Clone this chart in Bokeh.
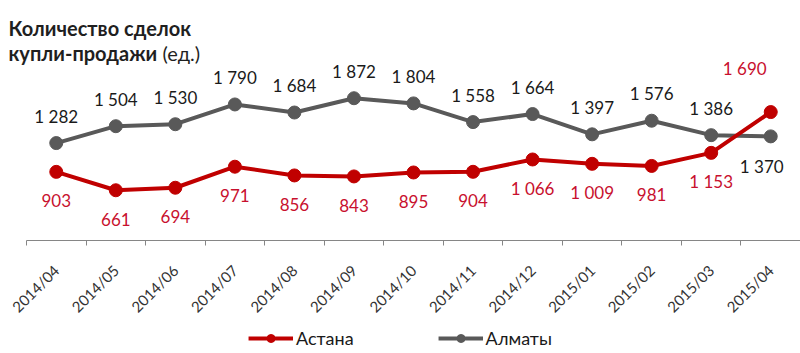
import math
from bokeh.plotting import figure
from bokeh.layouts import column
from bokeh.models import FixedTicker, Label, Legend, LegendItem, ColumnDataSource
from bokeh.core.properties import value
from bokeh.embed import file_html
from bokeh.resources import INLINE

# ---- data ----
months = ["2014/04", "2014/05", "2014/06", "2014/07", "2014/08", "2014/09", "2014/10",
          "2014/11", "2014/12", "2015/01", "2015/02", "2015/03", "2015/04"]
astana = [903, 661, 694, 971, 856, 843, 895, 904, 1066, 1009, 981, 1153, 1690]
almaty = [1282, 1504, 1530, 1790, 1684, 1872, 1804, 1558, 1664, 1397, 1576, 1386, 1370]
series_names = ["Астана", "Алматы"]
title_bold_1 = "Количество  сделок"
title_bold_2 = "купли-продажи"
title_unit = "(ед.)"

# ---- style ----
RED = "#C00000"
GREY = "#595959"
LABEL_RED = "#C8102E"
FONT = "Lato"
W = 800
MAIN_H = 324
LEG_H = 29
FRAME_H = 240
LEFT_PAD = 26

n = len(months)
xs = [i + 0.5 for i in range(n)]
cat_w = (W - LEFT_PAD) / n
x_start = -LEFT_PAD / cat_w

def fmt(v):
    return f"{v:,}".replace(",", " ")

p = figure(width=W, height=MAIN_H, output_backend="svg", toolbar_location=None,
           x_range=(x_start, n), y_range=(0, FRAME_H / 0.076),
           min_border_left=0, min_border_right=0, min_border_top=0,
           min_border_bottom=MAIN_H - FRAME_H)
p.outline_line_color = None
p.xgrid.visible = False
p.ygrid.visible = False
p.yaxis.visible = False
p.background_fill_color = "white"
p.border_fill_color = "white"

ax = p.xaxis[0]
ax.bounds = (0, n)
ax.ticker = FixedTicker(ticks=xs, minor_ticks=list(range(n + 1)))
ax.major_label_overrides = {x: m for x, m in zip(xs, months)}
ax.major_label_orientation = math.pi / 4
ax.major_tick_out = 0
ax.major_tick_in = 0
ax.minor_tick_out = 5
ax.minor_tick_in = 0
ax.minor_tick_line_color = "#868686"
ax.axis_line_color = "#868686"
ax.major_label_text_font = FONT
ax.major_label_text_font_size = "15px"
ax.major_label_text_color = "#333333"
ax.major_label_standoff = 22

src_a = ColumnDataSource(dict(x=xs, y=astana, t=[fmt(v) for v in astana]))
src_m = ColumnDataSource(dict(x=xs, y=almaty, t=[fmt(v) for v in almaty]))

lm = p.line("x", "y", source=src_m, line_color=GREY, line_width=4)
sm = p.scatter("x", "y", source=src_m, size=13, fill_color=GREY, line_color=GREY)
la = p.line("x", "y", source=src_a, line_color=RED, line_width=4)
sa = p.scatter("x", "y", source=src_a, size=13, fill_color=RED, line_color=RED)

# label offsets (screen px): Almaty above, Astana below, except the last month
off_m_x = [0] * n
off_m_y = [-27] * n
off_a_x = [0] * n
off_a_y = [29] * n
off_m_x[-1] = -9
off_m_y[-1] = 30
off_a_x[-1] = -26
off_a_y[-1] = -44
src_m.data["ox"] = off_m_x
src_m.data["oy"] = off_m_y
src_a.data["ox"] = off_a_x
src_a.data["oy"] = off_a_y

p.text("x", "y", text="t", source=src_m, x_offset="ox", y_offset="oy",
       text_align="center", text_baseline="middle", text_font=value(FONT),
       text_font_size="17px", text_color="#1a1a1a")
p.text("x", "y", text="t", source=src_a, x_offset="ox", y_offset="oy",
       text_align="center", text_baseline="middle", text_font=value(FONT),
       text_font_size="17px", text_color=LABEL_RED)

# title
p.add_layout(Label(x=8, y=FRAME_H - 27, x_units="screen", y_units="screen", text=title_bold_1,
                   text_font=FONT, text_font_size="20px", text_font_style="bold",
                   text_color="#1f1f1f", text_baseline="alphabetic"))
p.add_layout(Label(x=8, y=FRAME_H - 52, x_units="screen", y_units="screen", text=title_bold_2,
                   text_font=FONT, text_font_size="20px", text_font_style="bold",
                   text_color="#1f1f1f", text_baseline="alphabetic"))
p.add_layout(Label(x=162, y=FRAME_H - 52, x_units="screen", y_units="screen", text=title_unit,
                   text_font=FONT, text_font_size="20px",
                   text_color="#1f1f1f", text_baseline="alphabetic"))

# legend strip below (series drawn out of view; only the legend shows)
lg = figure(width=W, height=LEG_H, output_backend="svg", toolbar_location=None,
            x_range=(0, n), y_range=(-20, -10),
            min_border_left=0, min_border_right=0, min_border_top=0, min_border_bottom=0)
lg.outline_line_color = None
lg.axis.visible = False
lg.grid.visible = False
ga1 = lg.line("x", "y", source=src_a, line_color=RED, line_width=4)
ga2 = lg.scatter("x", "y", source=src_a, size=13, fill_color=RED, line_color=RED)
gm1 = lg.line("x", "y", source=src_m, line_color=GREY, line_width=4)
gm2 = lg.scatter("x", "y", source=src_m, size=13, fill_color=GREY, line_color=GREY)
legend = Legend(items=[LegendItem(label=series_names[0], renderers=[ga1, ga2]),
                       LegendItem(label=series_names[1], renderers=[gm1, gm2])],
                orientation="horizontal", location="top_center",
                glyph_width=45, glyph_height=20, spacing=84, label_standoff=3,
                label_text_font=FONT, label_text_font_size="18px", label_text_color="#1a1a1a",
                border_line_alpha=0, background_fill_alpha=0, padding=0, margin=3)
lg.add_layout(legend, "center")

layout = column(p, lg, spacing=0)
open("out.html", "w").write(file_html(layout, INLINE))
